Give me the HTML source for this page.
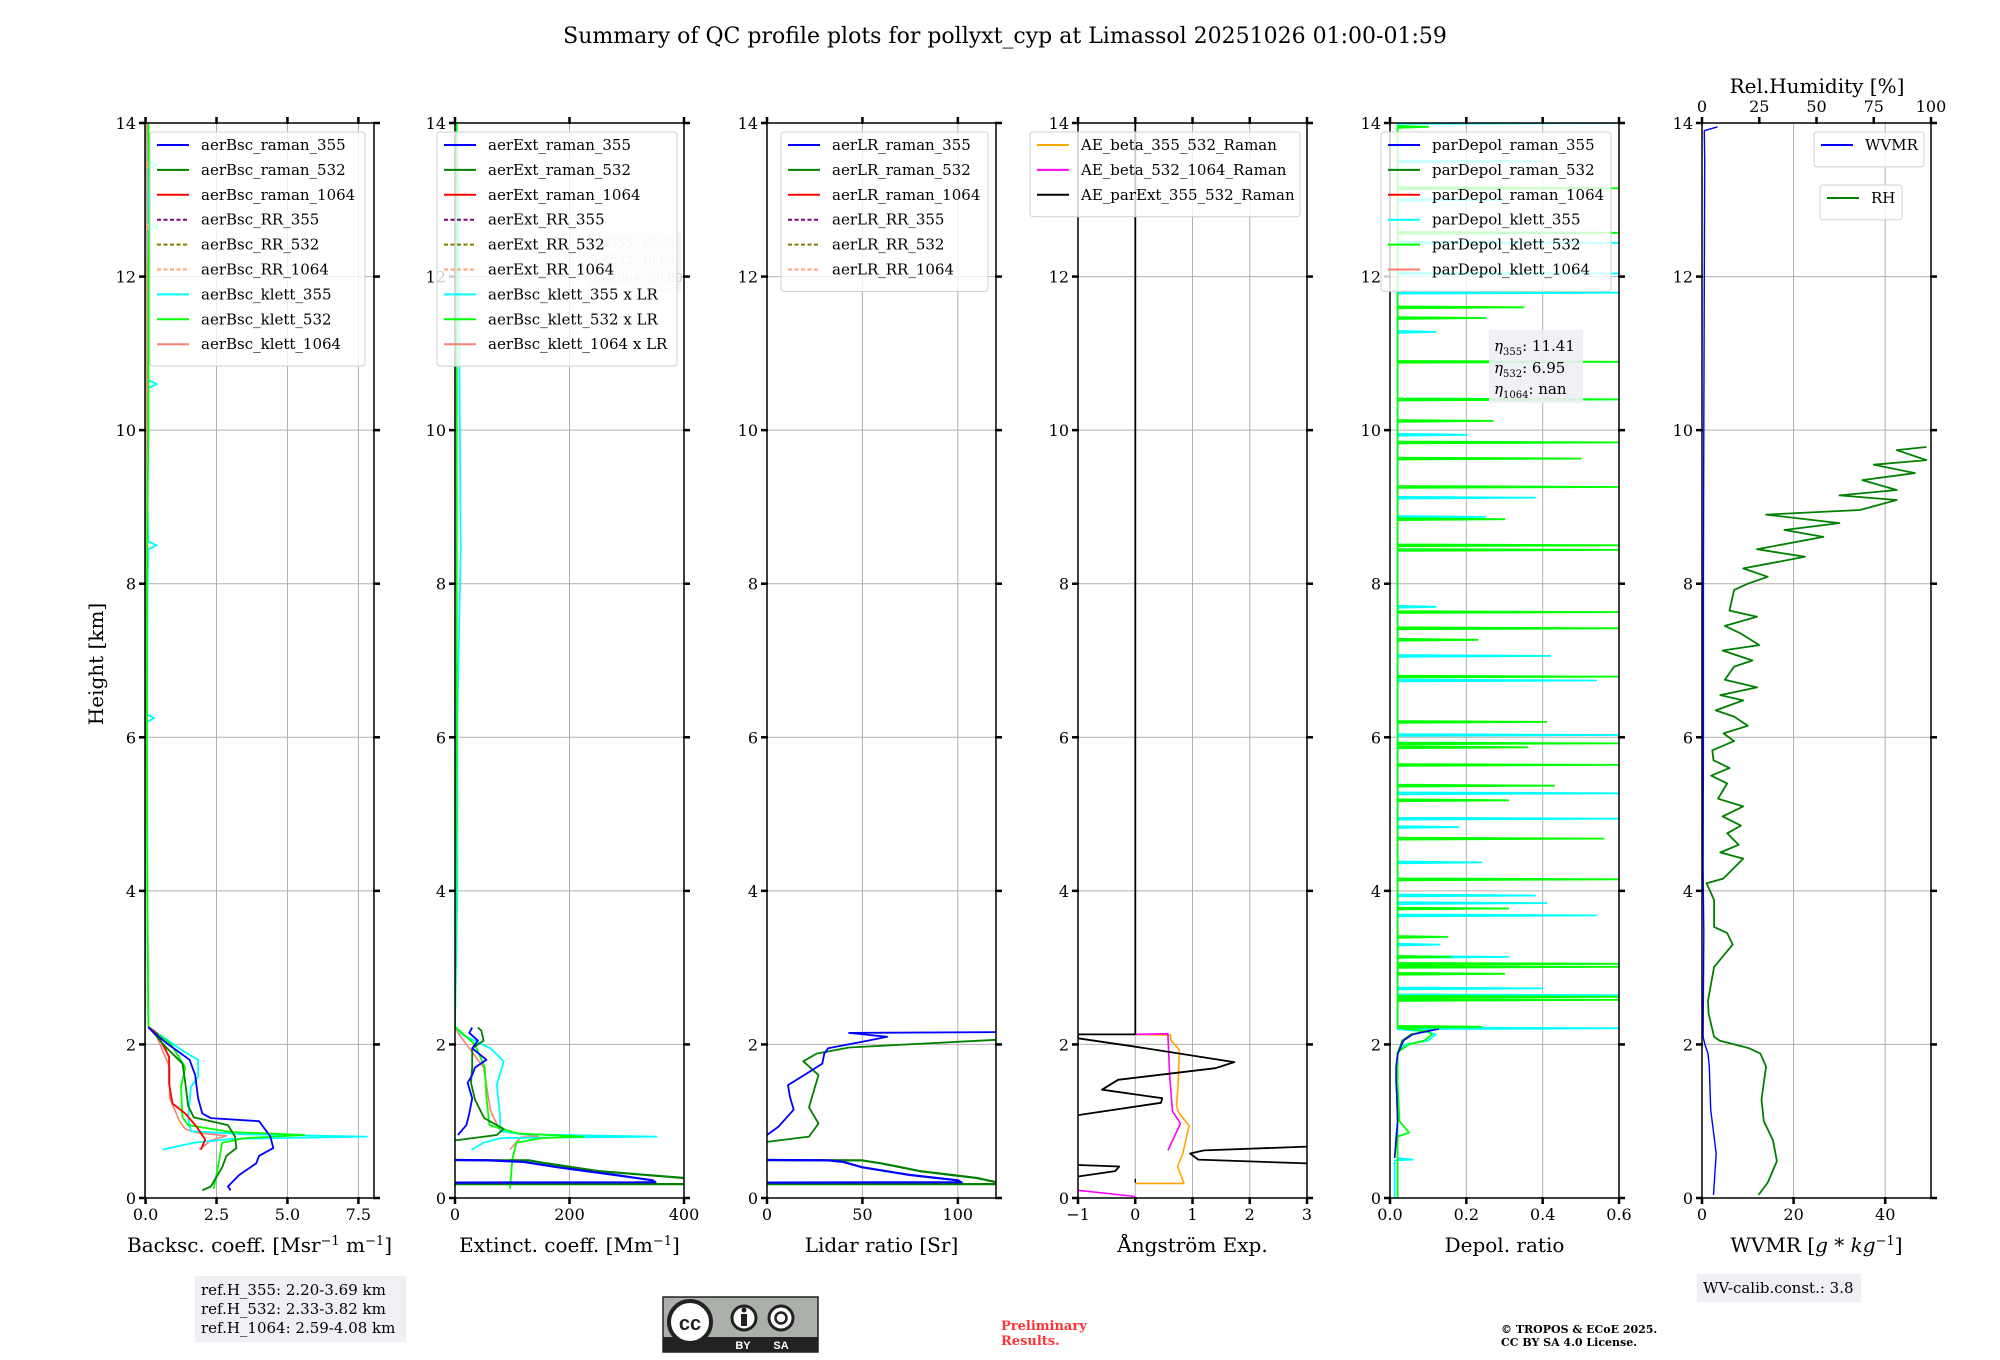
<!DOCTYPE html>
<html><head><meta charset="utf-8"><style>
html,body{margin:0;padding:0;background:#fff;}
svg{display:block;font-family:"DejaVu Serif","Liberation Serif",serif;}
</style></head><body>
<svg id="fig" width="2000" height="1360" viewBox="0 0 2000 1360" xmlns="http://www.w3.org/2000/svg">
<rect width="2000" height="1360" fill="#fff"/>
<text x="1005" y="43" font-size="22" text-anchor="middle">Summary of QC profile plots for pollyxt_cyp at Limassol 20251026 01:00-01:59</text>
<text x="0" y="0" font-size="20" text-anchor="middle" transform="translate(103,664) rotate(-90)">Height [km]</text>
<g id="panels"></g>
<g>
<rect x="195" y="1276" width="211" height="66" fill="#eef0f4"/>
<text x="201" y="1295" font-size="15">ref.H_355: 2.20-3.69 km</text>
<text x="201" y="1314" font-size="15">ref.H_532: 2.33-3.82 km</text>
<text x="201" y="1333" font-size="15">ref.H_1064: 2.59-4.08 km</text>
</g>
<g>
<rect x="663" y="1297" width="155" height="55" fill="#abb1aa" stroke="#222" stroke-width="1.5"/>
<rect x="663" y="1337" width="155" height="15" fill="#222"/>
<circle cx="690" cy="1322" r="21" fill="#fff" stroke="#222" stroke-width="4"/>
<text x="690" y="1330" font-size="20" font-weight="bold" text-anchor="middle" fill="#222" font-family="Liberation Sans, sans-serif">cc</text>
<circle cx="744" cy="1318" r="12" fill="#fff" stroke="#222" stroke-width="3"/>
<rect x="741" y="1314" width="6" height="12" fill="#222"/><circle cx="744" cy="1310" r="2.5" fill="#222"/>
<circle cx="781" cy="1318" r="12" fill="#fff" stroke="#222" stroke-width="3"/>
<circle cx="781" cy="1318" r="5.5" fill="none" stroke="#222" stroke-width="2.5"/>
<text x="743" y="1349" font-size="11" font-weight="bold" fill="#fff" text-anchor="middle" font-family="Liberation Sans, sans-serif">BY</text>
<text x="781" y="1349" font-size="11" font-weight="bold" fill="#fff" text-anchor="middle" font-family="Liberation Sans, sans-serif">SA</text>
</g>
<text x="1001" y="1330" font-size="13" font-weight="bold" fill="#ff3333">Preliminary</text>
<text x="1001" y="1345" font-size="13" font-weight="bold" fill="#ff3333">Results.</text>
<text x="1501" y="1333" font-size="11" font-weight="bold">© TROPOS &amp; ECoE 2025.</text>
<text x="1501" y="1346" font-size="11" font-weight="bold">CC BY SA 4.0 License.</text>
<g>
<rect x="1697" y="1274" width="164" height="28" fill="#eef0f4"/>
<text x="1703" y="1293" font-size="15">WV-calib.const.: 3.8</text>
</g>
</svg>
<script>
// ---------- data (heights km, values) ----------
const bscR355H=[0.10,0.15,0.30,0.45,0.55,0.65,0.80,1.00,1.04,1.10,1.30,1.60,1.80,2.00,2.15,2.22];
const bscR355V=[3.0,2.9,3.3,3.9,4.0,4.5,4.4,4.0,2.3,2.0,1.85,1.75,1.55,0.8,0.3,0.1];
const bscR532H=[0.10,0.15,0.40,0.55,0.65,0.80,0.95,1.05,1.20,1.50,1.75,1.97,2.23];
const bscR532V=[2.0,2.3,2.7,2.85,3.2,3.15,2.9,1.7,1.5,1.4,1.3,0.7,0.1];
const bscR1064H=[0.63,0.76,0.93,1.10,1.23,1.49,1.84,2.14,2.23];
const bscR1064V=[1.95,2.1,1.8,1.4,0.95,0.83,0.83,0.4,0.1];
const bscK355H=[0.63,0.72,0.77,0.80,0.83,0.87,1.04,1.45,1.58,1.80,1.92,2.23,3,4,5,6.2,6.25,6.3,7,8,8.45,8.5,8.55,9,10,10.55,10.6,10.65,11,12,12.6,12.65,12.7,13,13.4,13.45,13.5,14];
const bscK355V=[0.6,1.7,3.0,7.8,3.5,1.6,1.5,1.6,1.85,1.85,1.3,0.1,0.08,0.06,0.06,0.05,0.3,0.05,0.06,0.07,0.1,0.4,0.1,0.07,0.1,0.1,0.4,0.1,0.1,0.1,0.1,0.4,0.1,0.1,0.1,0.4,0.1,0.1];
const bscK532H=[0.12,0.50,0.72,0.78,0.82,0.86,0.95,1.05,1.45,1.70,2.00,2.23,4,6,8,9.5,10,11,12,13,14];
const bscK532V=[2.4,2.6,2.7,3.5,5.6,3.0,1.5,1.3,1.25,1.4,0.9,0.1,0.06,0.05,0.05,0.08,0.1,0.1,0.1,0.15,0.1];
const bscK1064H=[0.63,0.75,0.81,0.85,0.90,1.00,1.30,1.70,2.10,2.23,5,10,14];
const bscK1064V=[1.9,2.3,2.85,1.8,1.4,1.2,0.85,0.85,0.4,0.1,0.05,0.05,0.05];

const extR355H=[0.20,0.205,0.23,0.30,0.40,0.47,0.49,0.495];
const extR355V=[0,350,345,280,180,120,60,0];
const extR355UpH=[0.82,0.95,1.1,1.3,1.5,1.6,1.7,1.8,1.95,2.05,2.15,2.22];
const extR355UpV=[5,20,25,30,22,30,35,55,30,40,25,30];
const extR532H=[0.18,0.181,0.26,0.35,0.45,0.49,0.495];
const extR532V=[0,420,400,250,160,130,0];
const extR532UpH=[0.75,0.82,0.9,1.04,1.28,1.5,1.7,1.95,2.05,2.18,2.22];
const extR532UpV=[0,73,85,51,35,28,30,30,50,46,40];
const extK355H=[0.63,0.72,0.78,0.80,0.83,0.87,1.05,1.47,1.78,1.95,2.13,2.23,4,6.2,8.45,10.55,12.6,14];
const extK355V=[29,50,80,352,120,79,79,73,85,62,12,0,4,4,10,8,6,3];
const extK532H=[0.12,0.50,0.72,0.78,0.80,0.84,0.95,1.3,1.7,2.0,2.23,6,10,14];
const extK532V=[96,100,107,150,224,110,60,55,52,35,0,3,3,3];
const extK1064H=[0.63,0.79,0.80,0.87,1.14,1.7,2.13,2.23];
const extK1064V=[96,115,146,79,62,50,7,0];

const lrR355H=[0.20,0.205,0.23,0.30,0.40,0.47,0.49,0.495];
const lrR355V=[0,102,100,75,50,40,32,0];
const lrR355UpH=[0.82,0.93,1.15,1.32,1.47,1.64,1.75,1.88,1.95,2.05,2.10,2.15,2.16];
const lrR355UpV=[0,6,14,12,11,22,29,30,32,53,63,43,120];
const lrR532H=[0.18,0.181,0.26,0.35,0.45,0.49,0.495];
const lrR532V=[0,125,110,80,60,50,0];
const lrR532UpH=[0.73,0.80,0.97,1.18,1.35,1.60,1.78,1.88,1.96,2.06];
const lrR532UpV=[0,22,27,22,24,27,19,26,43,120];

const aeParH=[2.13,2.13,2.08,1.97,1.77,1.69,1.54,1.41,1.30,1.24,1.08];
const aeParV=[0,-1,-1,0,1.73,1.4,-0.3,-0.58,0.47,0.45,-1];
const aeParTopH=[2.13,14];
const aeParTopV=[0,0];
const aeParLowH=[0.67,0.62,0.58,0.50,0.45];
const aeParLowV=[3,1.2,0.96,1.1,3];
const aeParLow2H=[0.43,0.41,0.35,0.28];
const aeParLow2V=[-1,-0.28,-0.35,-1];
const aeBeta355H=[0.19,0.19,0.41,0.58,0.94,1.11,1.2,1.5,1.93,2.06,2.12,2.13];
const aeBeta355V=[0,0.85,0.74,0.83,0.94,0.76,0.72,0.75,0.77,0.62,0.62,0];
const aeBeta532H=[0.62,0.97,1.13,1.6,2.14,2.13];
const aeBeta532V=[0.57,0.79,0.65,0.6,0.57,0];
const aeBeta532LowH=[0.02,0.1];
const aeBeta532LowV=[0,-1];

const dpRamanH=[0.52,0.8,1.0,1.3,1.52,1.71,1.88,2.05,2.13,2.2];
const dp355V=[0.012,0.016,0.02,0.018,0.016,0.016,0.021,0.036,0.06,0.128];
const dp532V=[0.012,0.018,0.02,0.018,0.016,0.016,0.02,0.032,0.055,0.12];
const dpKlettLowH=[0,0.49,0.5,0.52,0.8,0.85,1.0,1.5,1.9,2.0,2.05,2.13,2.17];
const dpK355LowV=[0.012,0.012,0.06,0.02,0.02,0.02,0.02,0.018,0.02,0.04,0.1,0.12,0.09];
const dpK532LowV=[0.02,0.02,0.02,0.02,0.02,0.05,0.025,0.02,0.02,0.05,0.09,0.11,0.1];
const dpBase=0.02;
const dpK355SpikeH=[2.21,2.58,2.64,2.73,3.14,3.3,3.68,3.84,3.94,4.37,4.83,4.94,5.27,6.03,6.74,7.06,7.7,8.87,9.12,9.94,10.4,11.28,11.79,12.04,12.44,13.0,13.5,14.0];
const dpK355SpikeV=[0.6,0.5,0.6,0.4,0.31,0.13,0.54,0.41,0.38,0.24,0.18,0.6,0.6,0.6,0.54,0.42,0.12,0.25,0.38,0.2,0.6,0.12,0.6,0.6,0.6,0.3,0.4,0.6];
const dpK532SpikeH=[2.23,2.58,2.62,2.92,3.01,3.05,3.14,3.4,3.77,4.15,4.68,5.18,5.37,5.64,5.87,5.92,6.2,6.79,7.27,7.42,7.63,8.44,8.5,8.84,9.26,9.63,9.84,10.12,10.4,10.89,11.46,11.6,12.57,13.15,13.95];
const dpK532SpikeV=[0.24,0.6,0.6,0.3,0.6,0.6,0.16,0.15,0.31,0.6,0.56,0.31,0.43,0.6,0.36,0.6,0.41,0.6,0.23,0.6,0.6,0.6,0.6,0.3,0.6,0.5,0.6,0.27,0.6,0.6,0.25,0.35,0.6,0.6,0.1];

const wvH=[0.04,0.58,1.15,1.71,1.88,2.01,2.1,3.45,4.3,6,8,10,12,13.5,13.9,13.95];
const wvV=[2.5,3.1,1.9,1.6,1.3,0.6,0.25,0.4,0.25,0.3,0.3,0.4,0.5,0.6,0.5,3.4];
const rhH=[0.04,0.2,0.48,0.75,1.0,1.28,1.5,1.71,1.88,1.95,2.05,2.1,2.4,2.57,3.01,3.3,3.45,3.53,3.88,4.1,4.16,4.3,4.42,4.5,4.6,4.75,4.85,4.97,5.1,5.2,5.4,5.5,5.6,5.7,5.83,5.95,6.05,6.15,6.27,6.35,6.48,6.55,6.65,6.75,6.92,7.0,7.13,7.2,7.35,7.45,7.57,7.65,7.92,8.0,8.09,8.2,8.35,8.45,8.61,8.7,8.79,8.9,8.96,9.09,9.15,9.22,9.35,9.44,9.55,9.61,9.74,9.78];
const rhV=[24.7,28.7,32.7,31,27,26,27,28,25.5,20.6,7.7,5.3,2.9,2.6,5.3,13.4,11,5.3,5.3,2,9.3,14,18,8,16,11,17,9,18,7,11,4,12,5,4.5,14,9.4,20,14,6,18,8,24,10,14,22,9,25,17,10,24,12,14,20,28.7,18,45,24,53,36,60,28,69,85,60,85,70,93,75,98,85,98];

// ---------- layout ----------
const LEFTS=[145,455,767,1078,1390,1702], PW=229, PT=123, PB=1198;
const NS="http://www.w3.org/2000/svg";
const root=document.getElementById('panels');
function mk(tag,attrs,parent){const e=document.createElementNS(NS,tag);for(const k in attrs)e.setAttribute(k,attrs[k]);(parent||root).appendChild(e);return e;}

function makePanel(idx,xmin,xmax,ticks,labels,xlabel,name){
  const L=LEFTS[idx];
  const g=mk('g',{});
  
  
  const xs=v=>L+(v-xmin)/(xmax-xmin)*PW;
  const ys=h=>PB-h/14*(PB-PT);
  const cp=mk('clipPath',{id:'clip'+idx},g);
  mk('rect',{x:L,y:PT,width:PW,height:PB-PT},cp);
  ticks.forEach(t=>{const x=xs(t);const gl=mk('line',{x1:x,x2:x,y1:PT,y2:PB,stroke:'#b0b0b0','stroke-width':1},g);
    
    });
  for(let h=2;h<=12;h+=2){const y=ys(h);const gl=mk('line',{x1:L,x2:L+PW,y1:y,y2:y,stroke:'#b0b0b0','stroke-width':1},g);
    
    }
  const series=mk('g',{'clip-path':'url(#clip'+idx+')'},g);
  const fr=mk('rect',{x:L,y:PT,width:PW,height:PB-PT,fill:'none',stroke:'#000','stroke-width':1.5},g);
  
  
  for(let h=0;h<=14;h+=2){const y=ys(h);
    mk('line',{x1:L-6,x2:L+1,y1:y,y2:y,stroke:'#000','stroke-width':2.5},g);
    mk('line',{x1:L+PW-1,x2:L+PW+6,y1:y,y2:y,stroke:'#000','stroke-width':2.5},g);
    const t=mk('text',{x:L-9,y:y+6,'font-size':16,'text-anchor':'end'},g);t.textContent=h;
    
    }
  ticks.forEach((tv,i)=>{const x=xs(tv);
    mk('line',{x1:x,x2:x,y1:PB-1,y2:PB+6,stroke:'#000','stroke-width':2.5},g);
    if(idx<5) mk('line',{x1:x,x2:x,y1:PT-6,y2:PT+1,stroke:'#000','stroke-width':2.5},g);
    const t=mk('text',{x:x,y:PB+22,'font-size':16,'text-anchor':'middle'},g);t.textContent=labels[i];
    
    });
  const xl=mk('text',{x:L+PW/2,y:PB+54,'font-size':20,'text-anchor':'middle'},g);xl.innerHTML=xlabel;
  
  
  return {g,series,xs,ys,L};
}
function line(p,H,V,color,w,name,dash){
  const pts=H.map((h,i)=>p.xs(V[i]).toFixed(1)+','+p.ys(h).toFixed(1)).join(' ');
  const e=mk('polyline',{points:pts,fill:'none',stroke:color,'stroke-width':w||1.8,'stroke-linejoin':'round'},p.series);
  if(dash)e.setAttribute('stroke-dasharray',dash);
  
  
}
function spikes(p,lowH,lowV,SH,SV,base,color,name){
  const H=lowH.slice(),V=lowV.slice();
  SH.forEach((h,i)=>{H.push(h-0.012,h,h+0.012);V.push(base,SV[i],base);});
  line(p,H,V,color,1.8,name);
}
function legend(p,x,y,w,items,name){
  const g=mk('g',{},p.g);
  
  
  mk('rect',{x:x,y:y,width:w,height:items.length*24.9+10,rx:3,fill:'#fff','fill-opacity':0.8,stroke:'#d0d0d0'},g);
  items.forEach((it,i)=>{const yy=y+13+i*24.9;
    const l=mk('line',{x1:x+7,x2:x+39,y1:yy,y2:yy,stroke:it[1],'stroke-width':2},g);
    if(it[2])l.setAttribute('stroke-dasharray','4,2.5');
    const t=mk('text',{x:x+51,y:yy+5,'font-size':15},g);t.textContent=it[0];
    
    });
}

const p1=makePanel(0,-0.02,8.05,[0,2.5,5,7.5],['0.0','2.5','5.0','7.5'],'Backsc. coeff. [Msr<tspan dy="-7" font-size="13">−1</tspan><tspan dy="7"> m</tspan><tspan dy="-7" font-size="13">−1</tspan><tspan dy="7">]</tspan>','backscatter-panel');
line(p1,bscK1064H,bscK1064V,'#fa8072',1.6,'bsc-klett-1064');
line(p1,bscK355H,bscK355V,'#00ffff',1.8,'bsc-klett-355');
line(p1,bscK532H,bscK532V,'#00ff00',1.8,'bsc-klett-532');
line(p1,bscR1064H,bscR1064V,'#ff0000',1.8,'bsc-raman-1064');
line(p1,bscR532H,bscR532V,'#008000',1.8,'bsc-raman-532');
line(p1,bscR355H,bscR355V,'#0000ff',1.8,'bsc-raman-355');
legend(p1,150,132,215,[['aerBsc_raman_355','#0000ff'],['aerBsc_raman_532','#008000'],['aerBsc_raman_1064','#ff0000'],['aerBsc_RR_355','#800080',1],['aerBsc_RR_532','#808000',1],['aerBsc_RR_1064','#ffa07a',1],['aerBsc_klett_355','#00ffff'],['aerBsc_klett_532','#00ff00'],['aerBsc_klett_1064','#fa8072']],'backscatter-legend');

const p2=makePanel(1,0,400,[0,200,400],['0','200','400'],'Extinct. coeff. [Mm<tspan dy="-7" font-size="13">−1</tspan><tspan dy="7">]</tspan>','extinction-panel');
line(p2,extK1064H,extK1064V,'#fa8072',1.6,'ext-klett-1064');
line(p2,extK355H,extK355V,'#00ffff',1.8,'ext-klett-355');
line(p2,extK532H,extK532V,'#00ff00',1.8,'ext-klett-532');
line(p2,extR532H,extR532V,'#008000',2.2,'ext-raman-532-low');
line(p2,extR532UpH,extR532UpV,'#008000',1.8,'ext-raman-532');
line(p2,extR355H,extR355V,'#0000ff',2.2,'ext-raman-355-low');
line(p2,extR355UpH,extR355UpV,'#0000ff',1.8,'ext-raman-355');
(function(){const g=mk('g',{},p2.g);


mk('rect',{x:589,y:232,width:92,height:60,fill:'#f4f4f6'},g);
[['LR355: 45.00',247],['LR532: 40.00',264],['LR1064: 50.00',282]].forEach(a=>{const t=mk('text',{x:593,y:a[1],'font-size':12,fill:'#c8c8c8'},g);t.textContent=a[0];});})();
legend(p2,437,132,240,[['aerExt_raman_355','#0000ff'],['aerExt_raman_532','#008000'],['aerExt_raman_1064','#ff0000'],['aerExt_RR_355','#800080',1],['aerExt_RR_532','#808000',1],['aerExt_RR_1064','#ffa07a',1],['aerBsc_klett_355 x LR','#00ffff'],['aerBsc_klett_532 x LR','#00ff00'],['aerBsc_klett_1064 x LR','#fa8072']],'extinction-legend');

const p3=makePanel(2,0,120,[0,50,100],['0','50','100'],'Lidar ratio [Sr]','lidar-ratio-panel');
line(p3,lrR532H,lrR532V,'#008000',2.2,'lr-raman-532-low');
line(p3,lrR532UpH,lrR532UpV,'#008000',1.8,'lr-raman-532');
line(p3,lrR355H,lrR355V,'#0000ff',2.2,'lr-raman-355-low');
line(p3,lrR355UpH,lrR355UpV,'#0000ff',1.8,'lr-raman-355');
legend(p3,781,132,207,[['aerLR_raman_355','#0000ff'],['aerLR_raman_532','#008000'],['aerLR_raman_1064','#ff0000'],['aerLR_RR_355','#800080',1],['aerLR_RR_532','#808000',1],['aerLR_RR_1064','#ffa07a',1]],'lidar-ratio-legend');

const p4=makePanel(3,-1,3,[-1,0,1,2,3],['−1','0','1','2','3'],'Ångström Exp.','angstrom-panel');
line(p4,aeBeta355H,aeBeta355V,'#ffa500',1.6,'ae-beta-355-532');
line(p4,aeBeta532H,aeBeta532V,'#ff00ff',1.6,'ae-beta-532-1064');
line(p4,aeBeta532LowH,aeBeta532LowV,'#ff00ff',1.6,'ae-beta-532-1064-low');
line(p4,aeParTopH,aeParTopV,'#000',1.8,'ae-parext-top');
line(p4,aeParH,aeParV,'#000',1.8,'ae-parext');
line(p4,aeParLowH,aeParLowV,'#000',1.8,'ae-parext-low');
line(p4,aeParLow2H,aeParLow2V,'#000',1.8,'ae-parext-low2');
line(p4,[0.2,0.25],[0,0],'#000',1.5,'ae-parext-stub');
legend(p4,1030,132,270,[['AE_beta_355_532_Raman','#ffa500'],['AE_beta_532_1064_Raman','#ff00ff'],['AE_parExt_355_532_Raman','#000']],'angstrom-legend');

const p5=makePanel(4,0,0.6,[0,0.2,0.4,0.6],['0.0','0.2','0.4','0.6'],'Depol. ratio','depol-panel');
spikes(p5,dpKlettLowH,dpK355LowV,dpK355SpikeH,dpK355SpikeV,dpBase,'#00ffff','depol-klett-355');
spikes(p5,dpKlettLowH,dpK532LowV,dpK532SpikeH,dpK532SpikeV,dpBase,'#00ff00','depol-klett-532');
line(p5,dpRamanH,dp532V,'#008000',1.6,'depol-raman-532');
line(p5,dpRamanH,dp355V,'#0000ff',1.4,'depol-raman-355');
legend(p5,1381,132,230,[['parDepol_raman_355','#0000ff'],['parDepol_raman_532','#008000'],['parDepol_raman_1064','#ff0000'],['parDepol_klett_355','#00ffff'],['parDepol_klett_532','#00ff00'],['parDepol_klett_1064','#fa8072']],'depol-legend');
(function(){const g=mk('g',{},p5.g);


mk('rect',{x:1489,y:330,width:94,height:73,fill:'#eef0f4','fill-opacity':0.9},g);
[['355','11.41',351],['532','6.95',373],['1064','nan',394]].forEach(a=>{const t=mk('text',{x:1494,y:a[2],'font-size':15},g);
t.innerHTML='<tspan font-style="italic">η</tspan><tspan font-size="10" dy="4">'+a[0]+'</tspan><tspan dy="-4">: '+a[1]+'</tspan>';});})();

const p6=makePanel(5,0,50,[0,20,40],['0','20','40'],'WVMR [<tspan font-style="italic">g</tspan> * <tspan font-style="italic">kg</tspan><tspan dy="-7" font-size="13">−1</tspan><tspan dy="7">]</tspan>','wvmr-panel');
const rhTicks=[0,25,50,75,100];
rhTicks.forEach(r=>{const v=r/2;const x=p6.xs(v);
  mk('line',{x1:x,x2:x,y1:PT-6,y2:PT+1,stroke:'#000','stroke-width':2.5},p6.g);
  const t=mk('text',{x:x,y:PT-11,'font-size':16,'text-anchor':'middle'},p6.g);t.textContent=r;
  
  });
(function(){const t=mk('text',{x:1817,y:93,'font-size':20,'text-anchor':'middle'},p6.g);t.textContent='Rel.Humidity [%]';

})();
line(p6,wvH,wvV,'#0000ff',1.4,'wvmr-line');
line(p6,rhH,rhV.map(r=>r/2),'#008000',1.8,'rh-line');
legend(p6,1814,132,110,[['WVMR','#0000ff']],'wvmr-legend');
legend(p6,1820,185,82,[['RH','#008000']],'rh-legend');
</script>
</body></html>
